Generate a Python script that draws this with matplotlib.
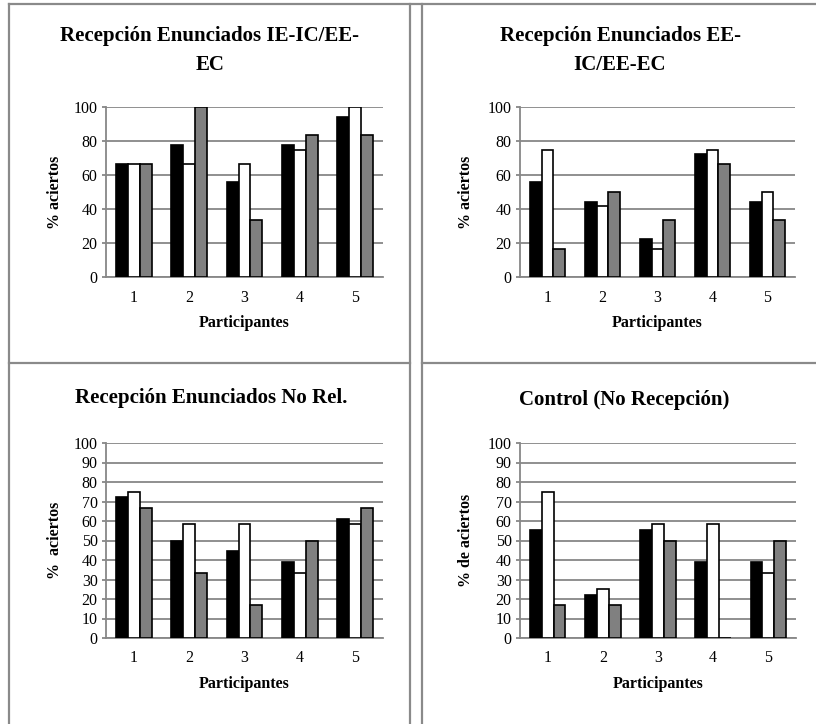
import numpy as np
import matplotlib.pyplot as plt
from matplotlib.lines import Line2D

plt.rcParams['font.family'] = ['Liberation Serif', 'DejaVu Serif']

W, H = 816, 724

participants = ['1', '2', '3', '4', '5']

# three series per panel: black, white, grey bars
ieic_black = [66.7, 77.8, 55.6, 77.8, 94.4]
ieic_white = [66.7, 66.7, 66.7, 75.0, 100.0]
ieic_grey = [66.7, 100.0, 33.3, 83.3, 83.3]

eeic_black = [55.6, 44.4, 22.2, 72.2, 44.4]
eeic_white = [75.0, 41.7, 16.7, 75.0, 50.0]
eeic_grey = [16.7, 50.0, 33.3, 66.7, 33.3]

norel_black = [72.2, 50.0, 44.4, 38.9, 61.1]
norel_white = [75.0, 58.3, 58.3, 33.3, 58.3]
norel_grey = [66.7, 33.3, 16.7, 50.0, 66.7]

ctrl_black = [55.6, 22.2, 55.6, 38.9, 38.9]
ctrl_white = [75.0, 25.0, 58.3, 58.3, 33.3]
ctrl_grey = [16.7, 16.7, 50.0, 0.0, 50.0]

panels = [
    dict(title='Recepción Enunciados IE-IC/EE-\nEC', ylabel='% aciertos',
         data=(ieic_black, ieic_white, ieic_grey), step=20,
         box=(106, 107, 383, 277), tx=210, ty=51, yl=55),
    dict(title='Recepción Enunciados EE-\nIC/EE-EC', ylabel='% aciertos',
         data=(eeic_black, eeic_white, eeic_grey), step=20,
         box=(520, 107, 795, 277), tx=620, ty=51, yl=466),
    dict(title='Recepción Enunciados No Rel.', ylabel='%  aciertos',
         data=(norel_black, norel_white, norel_grey), step=10,
         box=(106, 443, 383, 638), tx=211, ty=398, yl=55),
    dict(title='Control (No Recepción)', ylabel='% de aciertos',
         data=(ctrl_black, ctrl_white, ctrl_grey), step=10,
         box=(520, 443, 796, 638), tx=624, ty=400, yl=466),
]

fig = plt.figure(figsize=(W / 100, H / 100), dpi=100)

def fx(x):
    return x / W

def fy(y):
    return 1 - y / H

grid_col = '#878787'
colors = ['black', 'white', '#808080']
x = np.arange(len(participants))
bw = 0.215

for p in panels:
    l, t, r, b = p['box']
    ax = fig.add_axes([fx(l), fy(b), fx(r) - fx(l), fy(t) - fy(b)])
    for i, (vals, c) in enumerate(zip(p['data'], colors)):
        ax.bar(x + (i - 1) * bw, vals, bw, color=c, edgecolor='black',
               linewidth=1.2, zorder=3)
    ax.set_xlim(-0.5, 4.5)
    ax.set_ylim(0, 100)
    ax.set_yticks(np.arange(0, 101, p['step']))
    ax.set_xticks(x)
    ax.set_xticklabels(participants)
    ax.yaxis.grid(True, color=grid_col, linewidth=1.3, zorder=0)
    ax.set_axisbelow(True)
    for s in ['top', 'right']:
        ax.spines[s].set_visible(False)
    for s in ['left', 'bottom']:
        ax.spines[s].set_color(grid_col)
        ax.spines[s].set_linewidth(1.3)
    ax.tick_params(axis='y', length=3, color=grid_col, width=1.3,
                   labelsize=11.5, pad=3)
    ax.tick_params(axis='x', length=0, labelsize=11.5, pad=9)
    ax.set_xlabel('Participantes', fontsize=11.5, fontweight='bold', labelpad=7)
    fig.text(fx(p['yl']), fy((t + b) / 2), p['ylabel'], rotation=90,
             ha='center', va='center', fontsize=11.5, fontweight='bold')
    fig.text(fx(p['tx']), fy(p['ty']), p['title'], ha='center', va='center',
             fontsize=15, fontweight='bold', linespacing=1.6)

# table borders
bc = '#8a8a8a'
lines = [
    ([9, 9], [4, 724]),
    ([9, 816], [4, 4]),
    ([410, 410], [4, 724]),
    ([422, 422], [4, 724]),
    ([9, 410], [363, 363]),
    ([422, 816], [363, 363]),
]
for xs, ys in lines:
    fig.add_artist(Line2D([fx(v) for v in xs], [fy(v) for v in ys],
                          color=bc, linewidth=1.6))

fig.savefig('out.png', dpi=100)
